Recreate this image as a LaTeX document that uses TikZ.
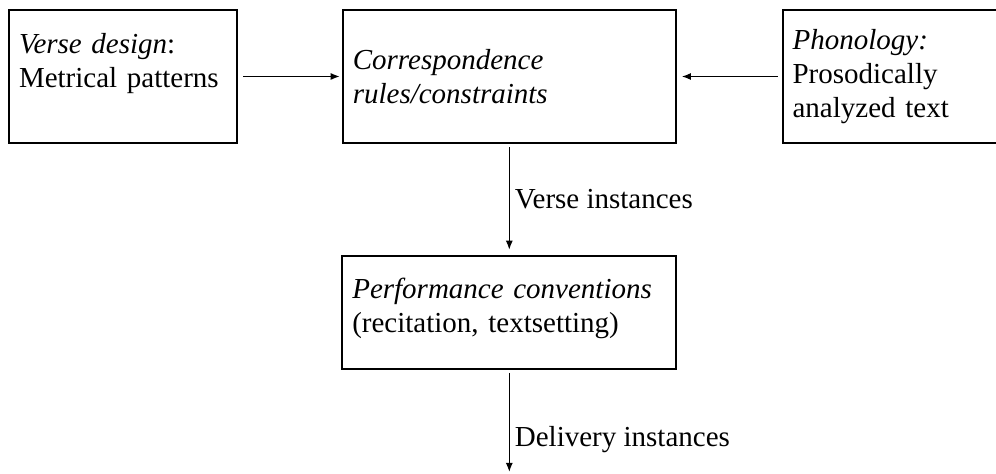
\documentclass[tikz,border=0pt]{standalone}
\usepackage{fontspec}
\setmainfont{Liberation Serif}
\usetikzlibrary{arrows.meta,positioning}

\begin{document}
\begin{tikzpicture}[
  x=0.5pt, y=-0.5pt,
  box/.style={draw, line width=1.1pt, align=left, inner xsep=5pt,
              minimum height=66.5pt, font=\fontsize{14.5}{17}\selectfont},
  arrow/.style={-{Latex[length=4.5pt,width=3.5pt]}, line width=0.6pt},
  flow/.style={font=\fontsize{14.5}{17}\selectfont, inner sep=2.5pt, anchor=west}
]
\path[use as bounding box, clip] (0,0) rectangle (996,474);

\node[box, text width=104pt, text depth=33.5pt] (verse) at (123,76.5)
  {\textit{Verse design}:\\Metrical patterns};
\node[box, text width=156.5pt, right=51.8pt of verse] (corr)
  {\textit{Correspondence}\\\textit{rules/constraints}};
\node[box, text width=103.5pt, right=52.3pt of corr] (phon)
  {\textit{Phonology:}\\Prosodically\\analyzed text};
\node[box, text width=157pt, text depth=24pt, minimum height=56.5pt,
      below=55.3pt of corr] (perf)
  {\textit{Performance conventions}\\(recitation, textsetting)};
\coordinate[below=51pt of perf] (out);

\draw[arrow, shorten <=2.5pt, shorten >=1pt] (verse) -- (corr);
\draw[arrow, shorten <=2pt, shorten >=2.5pt] (phon) -- (corr);
\draw[arrow, shorten <=1.5pt, shorten >=2.5pt] (corr) -- node[flow, pos=0.5] {Verse instances} (perf);
\draw[arrow, shorten <=1.5pt] (perf) -- node[flow, pos=0.68] {Delivery instances} (out);
\end{tikzpicture}
\end{document}
